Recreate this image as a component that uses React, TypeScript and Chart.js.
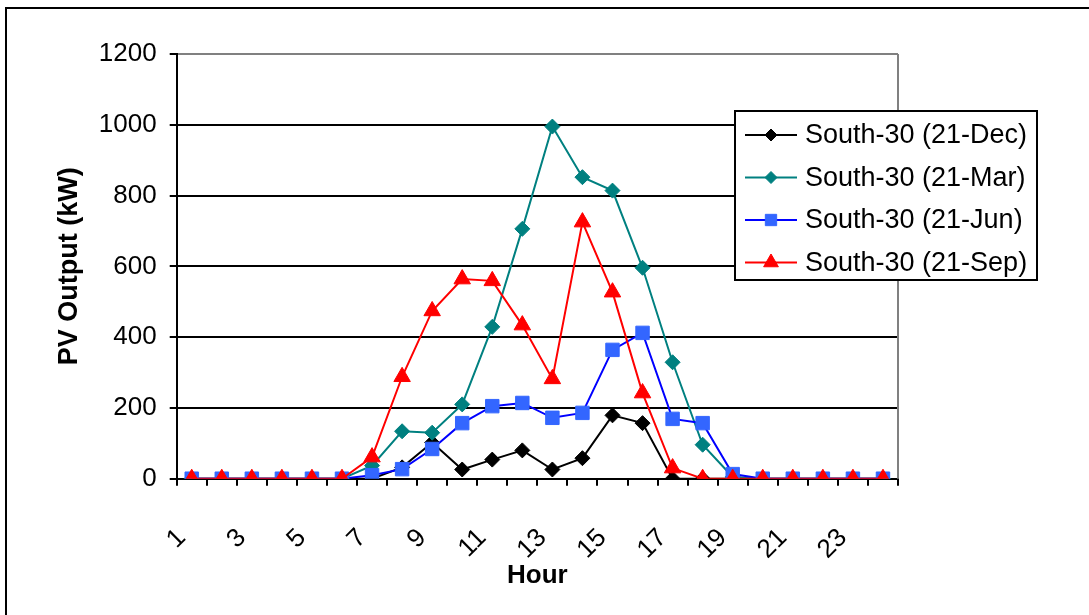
import React, { useEffect, useRef } from 'react';
import { Chart, registerables } from 'chart.js';
import { drawPoint } from 'chart.js/helpers';

Chart.register(...registerables);

const hours = ['1', '2', '3', '4', '5', '6', '7', '8', '9', '10', '11', '12', '13', '14', '15', '16', '17', '18', '19', '20', '21', '22', '23', '24'];
const seriesNames = ['South-30 (21-Dec)', 'South-30 (21-Mar)', 'South-30 (21-Jun)', 'South-30 (21-Sep)'];
const dec = [0, 0, 0, 0, 0, 0, 0, 32, 102, 26, 54, 80, 26, 58, 179, 157, 0, 0, 0, 0, 0, 0, 0, 0];
const mar = [0, 0, 0, 0, 0, 0, 37, 134, 130, 210, 429, 706, 995, 852, 814, 596, 329, 96, 5, 0, 0, 0, 0, 0];
const jun = [0, 0, 0, 0, 0, 0, 10, 27, 84, 157, 205, 214, 172, 186, 364, 412, 169, 157, 13, 0, 0, 0, 0, 0];
const sep = [0, 0, 0, 0, 0, 0, 61, 288, 474, 564, 559, 434, 282, 725, 527, 242, 30, 0, 0, 0, 0, 0, 0, 0];
const yMax = 1200;
const yStep = 200;

const FONT = '"Liberation Sans", Arial, sans-serif';

const styles = [
  { line: '#000000', fill: '#000000', shape: 'rectRot', r: 7.5, lr: 6 },
  { line: '#008080', fill: '#008080', shape: 'rectRot', r: 7.5, lr: 6 },
  { line: '#0000FF', fill: '#3366FF', shape: 'rect', r: 9.5, lr: 8 },
  { line: '#FF0000', fill: '#FF0000', shape: 'triangle', r: 9.5, lr: 8.5 },
];

export default function App() {
  const ref = useRef<HTMLCanvasElement>(null);

  useEffect(() => {
    if (!ref.current) return;
    const seriesData = [dec, mar, jun, sep];
    const datasets = seriesData.map((d, i) => ({
      label: seriesNames[i],
      data: d,
      borderColor: styles[i].line,
      backgroundColor: styles[i].fill,
      pointBackgroundColor: styles[i].fill,
      pointBorderColor: styles[i].fill,
      pointBorderWidth: 1,
      pointStyle: styles[i].shape as any,
      pointRadius: styles[i].r,
      borderWidth: 2,
      tension: 0,
      order: 3 - i,
    }));

    const framePlugin = {
      id: 'frame',
      beforeDraw(chart: any) {
        const ctx = chart.ctx;
        ctx.save();
        ctx.fillStyle = '#ffffff';
        ctx.fillRect(0, 0, chart.width, chart.height);
        ctx.strokeStyle = '#000000';
        ctx.lineWidth = 2;
        ctx.beginPath();
        ctx.moveTo(6, chart.height);
        ctx.lineTo(6, 8);
        ctx.lineTo(chart.width, 8);
        ctx.stroke();
        ctx.restore();
      },
      afterDraw(chart: any) {
        const ctx = chart.ctx;
        const a = chart.chartArea;
        ctx.save();
        ctx.strokeStyle = '#808080';
        ctx.lineWidth = 2;
        ctx.beginPath();
        ctx.moveTo(a.right, a.top);
        ctx.lineTo(a.right, a.bottom);
        ctx.stroke();

        // legend
        const lx = 735, ly = 111, lw = 302, lh = 169;
        ctx.fillStyle = '#ffffff';
        ctx.fillRect(lx, ly, lw, lh);
        ctx.strokeStyle = '#000000';
        ctx.lineWidth = 2;
        ctx.strokeRect(lx, ly, lw, lh);
        ctx.font = `27px ${FONT}`;
        ctx.textBaseline = 'middle';
        ctx.textAlign = 'left';
        seriesNames.forEach((name, i) => {
          const y = 135 + i * 42.5;
          ctx.strokeStyle = styles[i].line;
          ctx.lineWidth = 2;
          ctx.beginPath();
          ctx.moveTo(745, y);
          ctx.lineTo(797, y);
          ctx.stroke();
          ctx.fillStyle = styles[i].fill;
          ctx.strokeStyle = styles[i].fill;
          ctx.lineWidth = 1;
          drawPoint(ctx, { pointStyle: styles[i].shape as any, radius: styles[i].lr, rotation: 0, borderWidth: 1 } as any, 771, y);
          ctx.fillStyle = '#000000';
          ctx.fillText(name, 805, y + 1);
        });
        ctx.restore();
      },
    };

    const chart = new Chart(ref.current, {
      type: 'line',
      data: { labels: hours, datasets },
      plugins: [framePlugin],
      options: {
        animation: false,
        responsive: false,
        maintainAspectRatio: false,
        layout: { padding: { left: 0, top: 54, right: 191, bottom: 0 } },
        plugins: { legend: { display: false }, tooltip: { enabled: false } },
        scales: {
          x: {
            type: 'category',
            offset: true,
            grid: {
              offset: true,
              drawOnChartArea: false,
              drawTicks: true,
              tickLength: 7,
              color: '#000000',
              lineWidth: 2,
            },
            border: { color: '#000000', width: 2 },
            ticks: {
              autoSkip: false,
              maxRotation: 45,
              minRotation: 45,
              padding: 37,
              labelOffset: -10,
              color: '#000000',
              font: { family: FONT, size: 26 },
              callback: (_v: any, idx: number) => (idx % 2 === 0 ? hours[idx] : ''),
            },
            title: {
              display: true,
              text: 'Hour',
              color: '#000000',
              font: { family: FONT, size: 26, weight: 'bold' },
              padding: { top: 0, bottom: 24 },
            },
            afterFit: (scale: any) => {
              scale.height = 136.3;
            },
          },
          y: {
            min: 0,
            max: yMax,
            ticks: {
              stepSize: yStep,
              padding: 13,
              color: '#000000',
              font: { family: FONT, size: 26 },
              callback: (v: any) => String(v),
            },
            grid: {
              color: (c: any) => (c.tick && c.tick.value === yMax ? '#808080' : '#000000'),
              tickColor: '#000000',
              lineWidth: 2,
              tickLength: 7,
            },
            border: { color: '#000000', width: 2 },
            title: {
              display: true,
              text: 'PV Output (kW)',
              color: '#000000',
              font: { family: FONT, size: 27, weight: 'bold' },
              padding: { top: 53, bottom: 0 },
            },
            afterFit: (scale: any) => {
              scale.width = 176.7;
            },
          },
        },
      },
    });
    return () => chart.destroy();
  }, []);

  return (
    <div style={{ position: 'absolute', left: 0, top: 0, width: 1089, height: 615 }}>
      <canvas ref={ref} width={1089} height={615} />
    </div>
  );
}
